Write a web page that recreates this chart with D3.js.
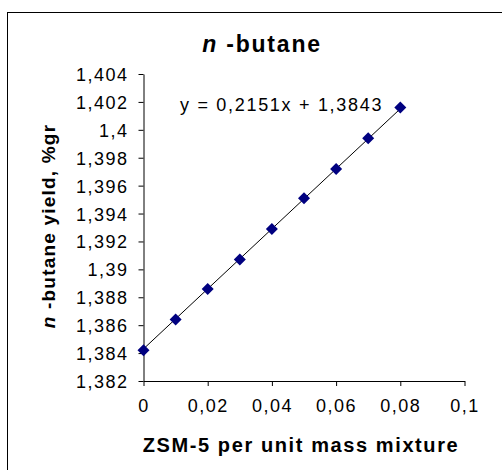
<!DOCTYPE html>
<html><head><meta charset="utf-8">
<script src="https://cdn.jsdelivr.net/npm/d3@7"></script>
<style>body{margin:0;background:#fff}svg{display:block}text{font-family:"Liberation Sans",Arial,sans-serif}</style>
</head><body><svg id="c" width="502" height="470"></svg>
<script>
const xValues = [0, 0.01, 0.02, 0.03, 0.04, 0.05, 0.06, 0.07, 0.08];
const yValues = [1.3842, 1.3864, 1.3886, 1.3907, 1.3929, 1.3951, 1.3972, 1.3994, 1.4016];
const xTicks = [0, 0.02, 0.04, 0.06, 0.08, 0.1];
const yTicks = [1.382, 1.384, 1.386, 1.388, 1.39, 1.392, 1.394, 1.396, 1.398, 1.4, 1.402, 1.404];
const trend = {slope: 0.2151, intercept: 1.3843};
const fmt = v => String(+v.toFixed(4)).replace('.', ',');

const svg = d3.select('#c');
svg.append('rect').attr('x', 7.5).attr('y', 12.5).attr('width', 600).attr('height', 600)
  .attr('fill', '#fff').attr('stroke', '#000').attr('stroke-width', 1);

const x = d3.scaleLinear().domain([0, 0.1]).range([143.5, 464.5]);
const y = d3.scaleLinear().domain([1.382, 1.404]).range([381, 74]);

const gy = svg.append('g').attr('transform', 'translate(143.5,0)')
  .call(d3.axisLeft(y).tickValues(yTicks).tickFormat(fmt).tickSize(5).tickSizeOuter(0).tickPadding(10));
const gx = svg.append('g').attr('transform', 'translate(0,381)')
  .call(d3.axisBottom(x).tickValues(xTicks).tickFormat(fmt).tickSize(5).tickSizeOuter(0).tickPadding(13));
[gy, gx].forEach(g => {
  g.select('.domain').attr('stroke', '#000');
  g.selectAll('.tick line').attr('stroke', '#000');
  g.selectAll('.tick text').attr('fill', '#000').style('font-size', '18px').style('letter-spacing', '1.5px')
    .style('font-family', '"Liberation Sans",Arial,sans-serif');
});
gy.selectAll('.tick text').attr('dy', '0.36em');

// trendline
svg.append('line')
  .attr('x1', x(0)).attr('y1', y(trend.intercept))
  .attr('x2', x(d3.max(xValues))).attr('y2', y(trend.intercept + trend.slope * d3.max(xValues)))
  .attr('stroke', '#000').attr('stroke-width', 1);

const sym = d3.symbol().type(d3.symbolSquare).size(72);
svg.append('g').selectAll('path').data(xValues).join('path')
  .attr('d', sym)
  .attr('transform', (d, i) => `translate(${x(d)},${y(yValues[i])}) rotate(45)`)
  .attr('fill', '#000080');

// title
const t = svg.append('text').attr('x', 262).attr('y', 52).attr('text-anchor', 'middle')
  .style('font-size', '23px').style('font-weight', 'bold').style('letter-spacing', '1.8px');
t.append('tspan').style('font-style', 'italic').text('n');
t.append('tspan').text(' -butane');

// equation
svg.append('text').attr('x', 180).attr('y', 111).style('font-size', '18px').style('letter-spacing', '1.7px')
  .text('y = 0,2151x + 1,3843');

// axis titles
svg.append('text').attr('x', 301).attr('y', 452).attr('text-anchor', 'middle')
  .style('font-size', '20px').style('font-weight', 'bold').style('letter-spacing', '1.6px')
  .text('ZSM-5 per unit mass mixture');
const yl = svg.append('text').attr('transform', 'translate(55,226) rotate(-90)').attr('text-anchor', 'middle')
  .style('font-size', '19px').style('font-weight', 'bold').style('letter-spacing', '1.2px');
yl.append('tspan').style('font-style', 'italic').text('n');
yl.append('tspan').text(' -butane yield, %gr');
</script></body></html>
